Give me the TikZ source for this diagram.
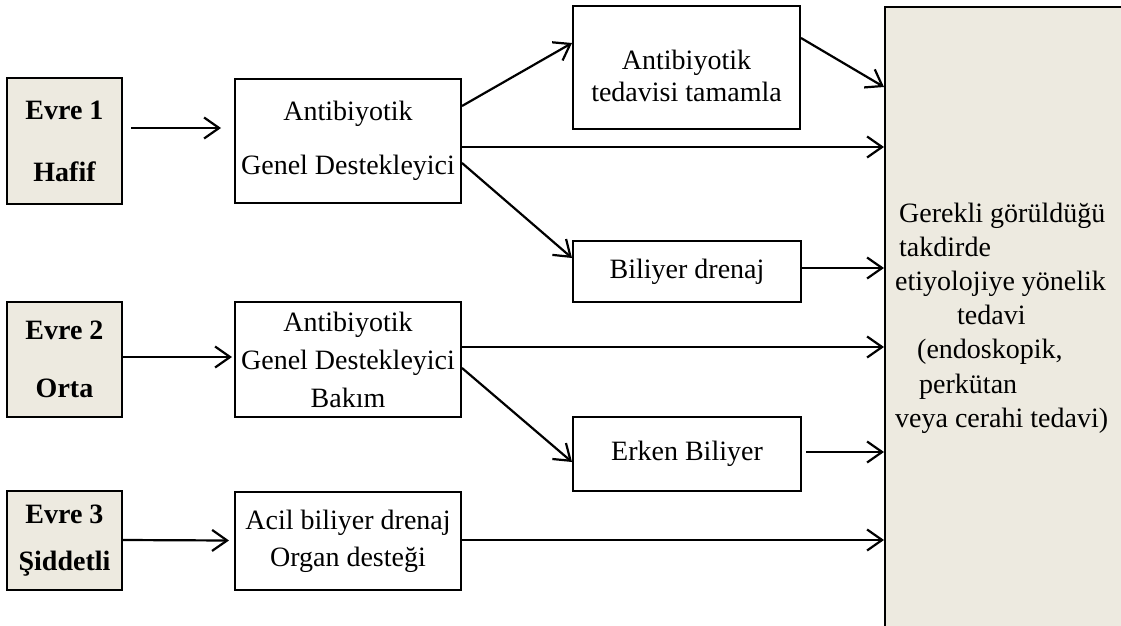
\documentclass[tikz,border=0pt]{standalone}
\usepackage{fontspec}
\setmainfont{Liberation Serif}
\usetikzlibrary{arrows.meta}
\definecolor{beige}{RGB}{237,234,224}
\begin{document}
\begin{tikzpicture}[x=1pt,y=-1pt,
  box/.style={draw,line width=2pt,rectangle,inner sep=1pt,align=center},
  stagebox/.style={box,fill=beige},
  txt/.style={align=center,inner sep=0pt},
  arr/.style={line width=2.2pt,-{Straight Barb[length=15pt,width=21pt]}}]
\useasboundingbox (0,0) rectangle (1121,626);
\clip (0,0) rectangle (1121,626);

% stage boxes
\node[stagebox,minimum width=115,minimum height=126,font={\bfseries\fontsize{28}{62}\selectfont}] (E1) at (64.5,141) {Evre 1\\Hafif};
\node[stagebox,minimum width=115,minimum height=115,font={\bfseries\fontsize{28}{58}\selectfont}] (E2) at (64.5,359.5) {Evre 2\\Orta};
\node[stagebox,minimum width=115,minimum height=99,font={\bfseries\fontsize{28}{47}\selectfont}] (E3) at (64.5,540.5) {Evre 3\\Şiddetli};

% middle boxes
\node[box,minimum width=226,minimum height=124,font={\fontsize{28}{54}\selectfont}] (A) at (348,141) {Antibiyotik\\Genel Destekleyici};
\node[box,minimum width=226,minimum height=115,font={\fontsize{28}{38}\selectfont}] (B) at (348,359.5) {Antibiyotik\\Genel Destekleyici\\Bakım};
\node[box,minimum width=226,minimum height=98,font={\fontsize{28}{37}\selectfont}] (C) at (348,541) {Acil biliyer drenaj\\Organ desteği};

% right column boxes
\node[box,minimum width=227,minimum height=123] (T) at (686.5,67.5) {};
\node[txt,font={\fontsize{28}{32}\selectfont}] (Tt) at (686.5,76) {Antibiyotik\\tedavisi tamamla};
\node[box,minimum width=228,minimum height=61,font={\fontsize{28}{34}\selectfont}] (D) at (687,271.5) {Biliyer drenaj};
\node[box,minimum width=228,minimum height=74,font={\fontsize{28}{34}\selectfont}] (K) at (687,454) {Erken Biliyer};

% big right box
\node[draw,fill=beige,line width=2pt,minimum width=250,minimum height=640,anchor=north west,inner sep=0pt] (R) at (884,6) {};
\node[txt,align=left,anchor=west,font={\fontsize{28}{34.2}\selectfont}] (Rt) at (895,318) {\hspace*{4pt}Gerekli görüldüğü\\\hspace*{4pt}takdirde\\etiyolojiye yönelik\\\hspace*{62pt}tedavi\\\hspace*{22pt}(endoskopik,\\\hspace*{24pt}perkütan\\veya cerahi tedavi)};

% connectors
\draw[arr] ([xshift=8,yshift=13]E1.east) -- ([xshift=-13,yshift=13]A.west);
\draw[arr] ([yshift=2.5]E2.east) -- ([xshift=-2,yshift=2.5]B.west);
\draw[arr] ([yshift=0.5]E3.east) -- ([xshift=-5,yshift=0.5]C.west);

\draw[arr] ([yshift=35]A.east) -- ([yshift=24.5]T.west);
\draw[arr] ([yshift=29.5]T.east) -- ([yshift=-81]R.north west);
\draw[arr] ([yshift=-6]A.east) -- ([yshift=-141]R.north west);
\draw[arr] ([yshift=-22]A.east) -- ([yshift=13.5]D.west);
\draw[arr] ([yshift=3.5]D.east) -- ([yshift=-262]R.north west);
\draw[arr] ([yshift=12.5]B.east) -- ([yshift=-341]R.north west);
\draw[arr] ([yshift=-8.5]B.east) -- ([yshift=-8]K.west);
\draw[arr] ([xshift=4,yshift=2]K.east) -- ([yshift=-446]R.north west);
\draw[arr] ([yshift=1]C.east) -- ([yshift=-534]R.north west);
\end{tikzpicture}
\end{document}
